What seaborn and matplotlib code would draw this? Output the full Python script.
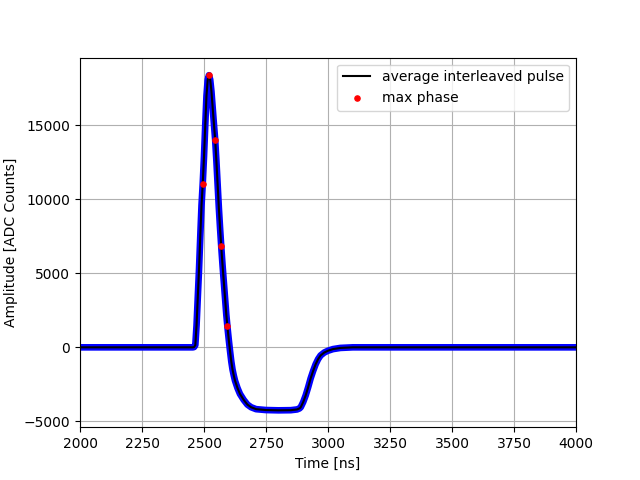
import matplotlib
matplotlib.use("Agg")
import matplotlib.pyplot as plt
import seaborn as sns

# average interleaved pulse
tiempo = [2000, 2100, 2200, 2300, 2400, 2455, 2460, 2465, 2470, 2475, 2480,
          2485, 2490, 2495, 2500, 2505, 2510, 2515, 2520, 2525, 2530, 2535,
          2540, 2545, 2550, 2555, 2560, 2565, 2570, 2575, 2580, 2585, 2590,
          2595, 2600, 2605, 2610, 2615, 2620, 2625, 2635, 2645, 2660, 2675,
          2690, 2710, 2750, 2800, 2850, 2875, 2885, 2890, 2900, 2910, 2920,
          2930, 2940, 2950, 2960, 2970, 2985, 3000, 3020, 3050, 3100, 3200,
          3300, 3400, 3500, 3600, 3700, 3800, 3900, 4000]
amplitud = [0, 0, 0, 0, 0, 0, 20, 150, 1500, 3400, 5300,
            7500, 9600, 11100, 12900, 15000, 17000, 18100, 18400, 18100, 17300, 16200,
            15100, 14050, 12600, 11000, 9400, 8000, 6700, 5500, 4400, 3300, 2200,
            1300, 500, -250, -950, -1500, -1900, -2250, -2750, -3150, -3550, -3870,
            -4050, -4180, -4240, -4260, -4250, -4200, -4130, -4050, -3700, -3250, -2700,
            -2100, -1600, -1150, -800, -550, -350, -230, -120, -40, 0, 0,
            0, 0, 0, 0, 0, 0, 0, 0]

# max phase samples
fase_t = [2494, 2519, 2545, 2569, 2593]
fase_amp = [11070, 18400, 14050, 6820, 1450]

fig, ax = plt.subplots(figsize=(6.4, 4.8), dpi=100)

# interleaved samples (blue band)
sns.lineplot(x=tiempo, y=amplitud, color="#0000ff", linewidth=4.8, sort=False, ax=ax)
sns.lineplot(x=tiempo, y=amplitud, color="black", linewidth=1.5, sort=False,
             label="average interleaved pulse", ax=ax)
sns.scatterplot(x=fase_t, y=fase_amp, color="red", s=14, linewidth=1,
                edgecolor="red", label="max phase", ax=ax, zorder=3)

ax.set_xlim(2000, 4000)
ax.set_ylim(-5400, 19590)
ax.set_xlabel("Time [ns]")
ax.set_ylabel("Amplitude [ADC Counts]")
ax.grid(True)
ax.legend(loc="upper right")

plt.savefig("out.png")
